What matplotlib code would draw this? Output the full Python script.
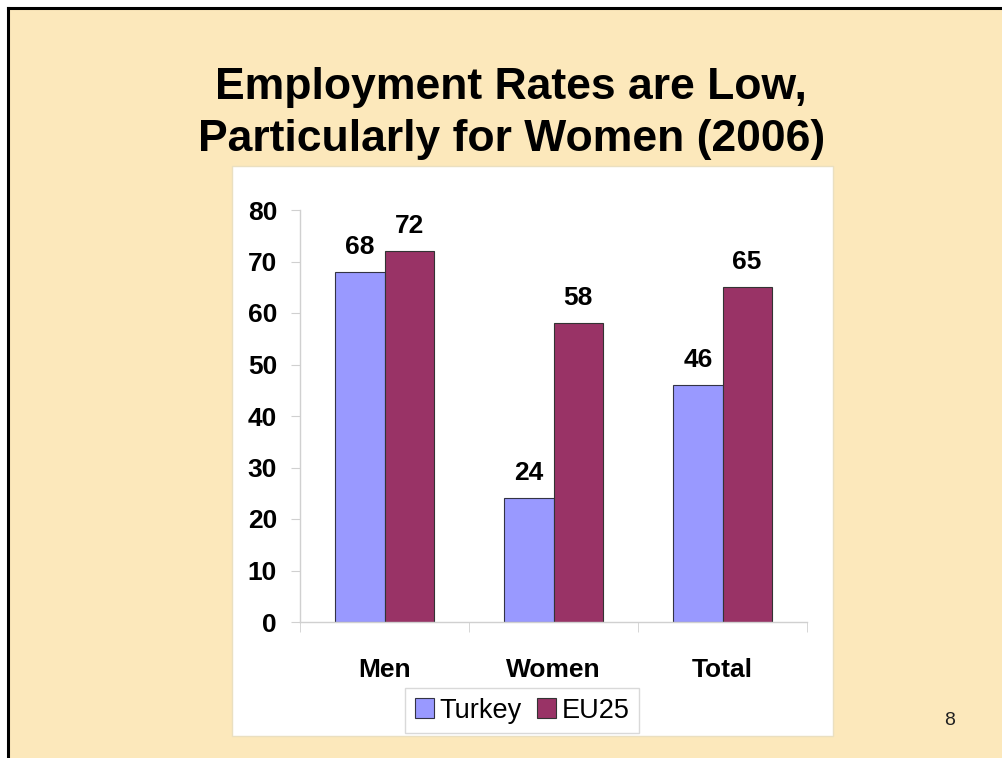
import numpy as np
import matplotlib.pyplot as plt
from matplotlib.patches import Rectangle
from matplotlib.lines import Line2D

plt.rcParams['font.family'] = ['Liberation Sans', 'DejaVu Sans']

categories = ['Men', 'Women', 'Total']
turkey = [68, 24, 46]
eu25 = [72, 58, 65]
yticks = [0, 10, 20, 30, 40, 50, 60, 70, 80]

W, H = 1002, 758
fig = plt.figure(figsize=(W / 100, H / 100), dpi=100)
fig.patch.set_facecolor('white')

# slide background and frame
fig.patches.append(Rectangle((8 / W, 0), 1 - 8 / W, 1 - 8 / H, transform=fig.transFigure,
                             facecolor='#FCE8BB', edgecolor='none', zorder=0))
fig.lines.append(Line2D([8 / W, 8 / W], [0, 1 - 8 / H], transform=fig.transFigure,
                        color='black', lw=2.2))
fig.lines.append(Line2D([8 / W, 1], [1 - 8 / H, 1 - 8 / H], transform=fig.transFigure,
                        color='black', lw=2.2))

# white chart panel
fig.patches.append(Rectangle((232 / W, 22 / H), 601 / W, 570 / H, transform=fig.transFigure,
                             facecolor='white', edgecolor='#EADFC0', lw=1, zorder=1))

# title
fig.text(511 / W, 1 - 99 / H, 'Employment Rates are Low,', ha='center', va='baseline',
         fontsize=32, fontweight='bold')
fig.text(512 / W, 1 - 151 / H, 'Particularly for Women (2006)', ha='center', va='baseline',
         fontsize=32, fontweight='bold')
fig.text(950 / W, 1 - 725 / H, '8', ha='center', va='baseline', fontsize=14, color='#222222')

ax = fig.add_axes([300 / W, 1 - 622 / H, 507 / W, 412 / H])
ax.set_facecolor('white')
ax.set_zorder(2)

x = np.arange(len(categories))
w = 0.29
b1 = ax.bar(x - w / 2, turkey, w, color='#9999FF', edgecolor='#333344', lw=0.8, label='Turkey')
b2 = ax.bar(x + w / 2, eu25, w, color='#993366', edgecolor='#333333', lw=0.8, label='EU25')

for bars, vals in [(b1, turkey), (b2, eu25)]:
    for r, v in zip(bars, vals):
        ax.annotate(str(v), (r.get_x() + r.get_width() / 2, r.get_height()),
                    xytext=(0, 13), textcoords='offset points', ha='center', va='baseline',
                    fontsize=19, fontweight='bold')

ax.set_xlim(-0.5, 2.5)
ax.set_ylim(0, 80)
ax.set_yticks(yticks)
ax.set_yticklabels([str(t) for t in yticks], fontsize=19, fontweight='bold')
ax.set_xticks(x)
ax.set_xticklabels(categories, fontsize=19, fontweight='bold')
ax.set_xticks([-0.5, 0.5, 1.5, 2.5], minor=True)
ax.tick_params(axis='x', which='major', length=0, pad=26)
ax.tick_params(axis='x', which='minor', length=7, color='#D0D0D0', direction='out')
ax.tick_params(axis='y', length=6.5, color='#D0D0D0', pad=10)
for s in ['top', 'right']:
    ax.spines[s].set_visible(False)
for s in ['left', 'bottom']:
    ax.spines[s].set_color('#D0D0D0')
    ax.spines[s].set_linewidth(1)

leg = fig.legend(handles=[b1, b2], labels=['Turkey', 'EU25'], loc='center',
                 bbox_to_anchor=(522 / W, 1 - 710.5 / H), ncol=2, fontsize=19.5,
                 frameon=True, fancybox=False, edgecolor='#D9D9D9', framealpha=1,
                 handlelength=0.72, handleheight=0.72, handletextpad=0.2,
                 columnspacing=0.55, borderpad=0.35, borderaxespad=0)
leg.get_frame().set_linewidth(1)
leg.set_zorder(3)

fig.savefig('out.png', dpi=100)
